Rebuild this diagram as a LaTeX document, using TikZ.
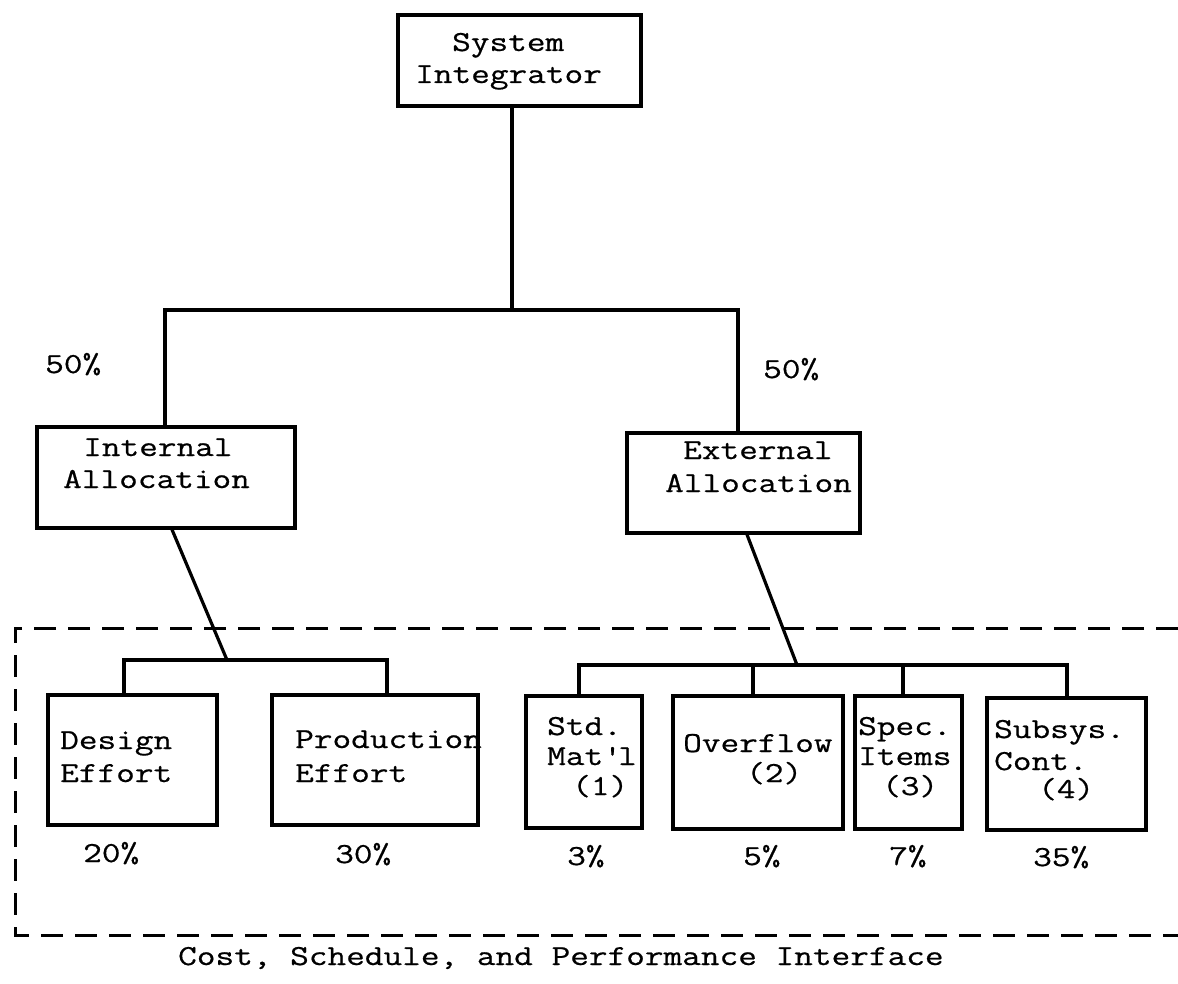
\documentclass[tikz,border=0pt]{standalone}
\usepackage{fontspec}
% widened typewriter face
\newfontfamily\tw{Latin Modern Mono}[FakeStretch=1.25,FakeBold=0.6]
\begin{document}
\begin{tikzpicture}[x=1pt,y=-1pt,
  box/.style={draw, line width=3.2pt, inner sep=0pt},
  conn/.style={line width=3.2pt},
  frame/.style={line width=3pt, dash pattern=on 22pt off 12pt},
  txt/.style={font=\tw\fontsize{29}{34}\selectfont, inner sep=0pt, anchor=base west}]
\useasboundingbox (0,0) rectangle (1178,984);

% boxes
\node[box, minimum width=243pt, minimum height=91pt]  (sys)  at (519.5,60.5) {};
\node[box, minimum width=258pt, minimum height=101pt] (int)  at (166,477.5) {};
\node[box, minimum width=233pt, minimum height=100pt] (ext)  at (743.5,483) {};
\node[box, minimum width=169pt, minimum height=130pt] (des)  at (132.5,760) {};
\node[box, minimum width=206pt, minimum height=130pt] (prod) at (375,760) {};
\node[box, minimum width=116pt, minimum height=132pt] (std)  at (584,762) {};
\node[box, minimum width=170pt, minimum height=133pt] (ovf)  at (758,762.5) {};
\node[box, minimum width=107pt, minimum height=133pt] (spc)  at (908.5,762.5) {};
\node[box, minimum width=159pt, minimum height=132pt] (sub)  at (1066.5,764) {};

% box texts
\node[txt] (sysA) at (452,51) {System};
\node[txt] (sysB) at (415,83) {Integrator};
\node[txt] (intA) at (83,456) {Internal};
\node[txt] (intB) at (63,488) {Allocation};
\node[txt] (extA) at (683,459) {External};
\node[txt] (extB) at (665,492) {Allocation};
\node[txt] (desA) at (60,749) {Design};
\node[txt] (desB) at (60,782) {Effort};
\node[txt] (prodA) at (295,748) {Production};
\node[txt] (prodB) at (295,782) {Effort};
\node[txt] (stdA) at (547,735) {Std.};
\node[txt] (stdB) at (547,765) {Mat\textquotesingle l};
\node[txt] (stdC) at (572,795) {(1)};
\node[txt] (ovfA) at (683,752) {Overflow};
\node[txt] (ovfB) at (746,782) {(2)};
\node[txt] (spcA) at (858,735) {Spec.};
\node[txt] (spcB) at (858,765) {Items};
\node[txt] (spcC) at (882,795) {(3)};
\node[txt] (subA) at (994,738) {Subsys.};
\node[txt] (subB) at (994,770) {Cont.};
\node[txt] (subC) at (1038,798) {(4)};

% shares
\node[txt] (pIn)  at (45,373)  {50\%};
\node[txt] (pEx)  at (763,378) {50\%};
\node[txt] (pDes) at (83,862)  {20\%};
\node[txt] (pPro) at (335,863) {30\%};
\node[txt] (pStd) at (567,865) {3\%};
\node[txt] (pOvf) at (743,865) {5\%};
\node[txt] (pSpc) at (889,865) {7\%};
\node[txt] (pSub) at (1033,866) {35\%};

% interface caption
\node[txt] (cap) at (178,965) {Cost, Schedule, and Performance Interface};

% top split
\coordinate (topM) at (512,310);
\coordinate (topL) at (165,310);
\coordinate (topR) at (738,310);
\draw[conn] (sys.south -| topM) -- (topM);
\draw[conn] (int.north -| topL) -- (topL) -- (topR) -- (ext.north -| topR);

% internal branch
\coordinate (desJ) at (227,660);
\coordinate (desL) at (124,660);
\coordinate (desR) at (387,660);
\draw[conn] ([xshift=6pt]int.south) -- (desJ);
\draw[conn] (des.north -| desL) -- (desL) -- (desR) -- (prod.north -| desR);

% external branch
\coordinate (extJ) at (797,665);
\coordinate (rA) at (579,665);
\coordinate (rB) at (753,665);
\coordinate (rC) at (903,665);
\coordinate (rD) at (1067,665);
\draw[conn] ([xshift=3.5pt]ext.south) -- (extJ);
\draw[conn] (std.north -| rA) -- (rA) -- (rD) -- (sub.north -| rD);
\draw[conn] (ovf.north -| rB) -- (rB);
\draw[conn] (spc.north -| rC) -- (rC);

% interface boundary, open to the right
\draw[frame] (1178,628) -- (15,628) -- (15,935) -- (1178,935);
\end{tikzpicture}
\end{document}
